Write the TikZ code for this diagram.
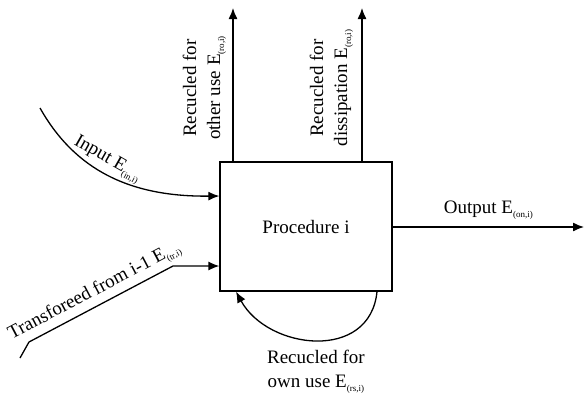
\documentclass[tikz,border=0pt]{standalone}
\usepackage{fontspec}
\setmainfont{Liberation Serif}
\usetikzlibrary{arrows.meta, positioning}
\newcommand{\Esub}[1]{E\raisebox{-4pt}{\fontsize{9}{9}\selectfont(#1)}}

\begin{document}
\begin{tikzpicture}[x=1pt, y=-1pt, line width=1.3pt,
    every node/.style={font=\fontsize{19}{24}\selectfont},
    flow/.style={-{Latex[length=11pt, width=9pt]}}]
  \useasboundingbox (0,0) rectangle (584,397);
  \node[draw, minimum width=172pt, minimum height=129pt, inner sep=0pt] (proc) at (306,226.5) {Procedure i};
  % recycled, leaving upwards
  \coordinate (otherend) at (233,8);
  \coordinate (dissend) at (362,8);
  \draw[flow] (proc.north -| otherend) -- (otherend);
  \draw[flow] (proc.north -| dissend) -- (dissend);
  \node[rotate=90, align=center, anchor=south] (otherlbl) at (230,88) {Recucled for\\other use \Esub{ro,i}};
  \node[rotate=90, align=center, anchor=south] (disslbl) at (357,88) {Recucled for\\dissipation \Esub{ro,i}};
  % inputs
  \coordinate (instart) at (40,108);
  \draw[flow] (instart) .. controls (75,170) and (130,197) .. node[sloped, above, pos=0.45] {Input \Esub{in,i}} (proc.west |- 0,196);
  \coordinate (trstart) at (20,358);
  \draw[flow] (trstart) -- (29,342) -- node[sloped, above] {Transforeed from i-1 \Esub{tr,i}} (173,266) -- (proc.west |- 0,266);
  % output
  \coordinate (outend) at (584,227);
  \draw[flow] (proc.east |- outend) -- node[above=4pt] {Output \Esub{on,i}} (outend);
  % own use loop
  \draw[flow] (proc.south -| 377,0) .. controls (370,362) and (268,350) .. node[below=6pt, align=center] {Recucled for\\own use \Esub{rs,i}} (proc.south -| 236,0);
\end{tikzpicture}
\end{document}
